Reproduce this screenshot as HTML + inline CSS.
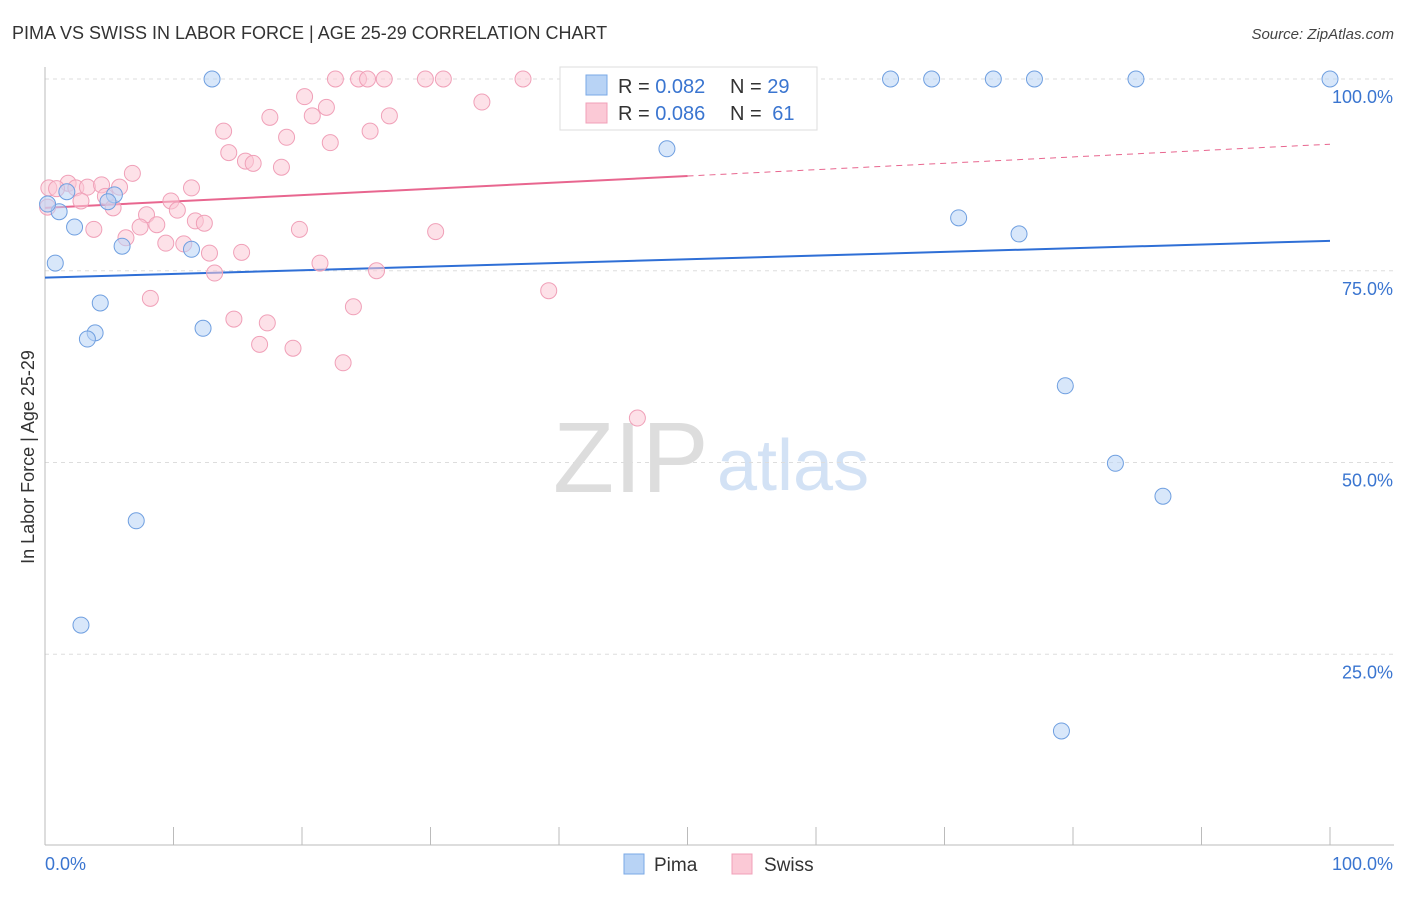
<!DOCTYPE html>
<html><head><meta charset="utf-8"><style>
body{margin:0;background:#fff;font-family:"Liberation Sans",sans-serif;}
svg text{font-family:"Liberation Sans",sans-serif;}
</style></head><body>
<svg id="chart" width="1406" height="892" xmlns="http://www.w3.org/2000/svg">
<text x="12" y="39" font-size="18" fill="#333">PIMA VS SWISS IN LABOR FORCE | AGE 25-29 CORRELATION CHART</text>
<text x="1394" y="39" font-size="15" fill="#444" text-anchor="end" font-style="italic">Source: ZipAtlas.com</text>
<text transform="translate(34,457) rotate(-90)" font-size="18" fill="#333" text-anchor="middle">In Labor Force | Age 25-29</text>
<g>
<text x="553" y="492" font-size="100" fill="#ddd" font-family="Liberation Serif,serif">ZIP</text>
<text x="717" y="490" font-size="72" fill="#d3e2f5">atlas</text>
</g>
<g id="grid"></g><g id="axes"></g><g id="trends"></g><g id="dots"></g>
<g>
<rect x="560" y="67" width="257" height="63" fill="#fff" stroke="#ddd"/>
<rect x="586" y="75" width="21" height="20" fill="#b8d3f5" stroke="#7aa8e6"/>
<text x="618" y="93" font-size="20" fill="#333">R = <tspan fill="#3a75d0">0.082</tspan></text>
<text x="730" y="93" font-size="20" fill="#333">N = <tspan fill="#3a75d0">29</tspan></text>
<rect x="586" y="103" width="21" height="20" fill="#fbc9d6" stroke="#f0a0b8"/>
<text x="618" y="120" font-size="20" fill="#333">R = <tspan fill="#3a75d0">0.086</tspan></text>
<text x="730" y="120" font-size="20" fill="#333">N = <tspan fill="#3a75d0" dx="5">61</tspan></text>
</g>
<g>
<rect x="624" y="854" width="20" height="20" fill="#b8d3f5" stroke="#7aa8e6"/>
<text x="654" y="871" font-size="19" fill="#333">Pima</text>
<rect x="732" y="854" width="20" height="20" fill="#fbc9d6" stroke="#f0a0b8"/>
<text x="764" y="871" font-size="19" fill="#333">Swiss</text>
</g>
</svg>
<script>
const pimaX=[13.0,65.8,69.0,73.8,77.0,84.9,100,48.4,71.1,75.8,1.1,0.2,1.7,5.4,4.9,2.3,0.8,6.0,11.4,4.3,3.9,3.3,12.3,79.4,83.3,87.0,7.1,2.8,79.1];
const pimaY=[100,100,100,100,100,100,100,90.9,81.9,79.8,82.7,83.7,85.3,84.9,84.0,80.7,76.0,78.2,77.8,70.8,66.9,66.1,67.5,60.0,49.9,45.6,42.4,28.8,15.0];
const swissX=[22.6,24.4,25.1,26.4,29.6,31.0,37.2,20.2,34.0,21.9,17.5,20.8,26.8,13.9,25.3,18.8,22.2,14.3,15.6,16.2,18.4,6.8,1.8,0.3,0.9,2.4,3.3,4.4,5.8,11.4,4.7,2.8,9.8,5.3,0.2,10.3,7.9,11.7,12.4,8.7,7.4,3.8,19.8,30.4,6.3,9.4,10.8,12.8,15.3,21.4,25.8,13.2,39.2,8.2,24.0,14.7,17.3,16.7,19.3,23.2,46.1];
const swissY=[100,100,100,100,100,100,100,97.7,97.0,96.3,95.0,95.2,95.2,93.2,93.2,92.4,91.7,90.4,89.3,89.0,88.5,87.7,86.4,85.8,85.7,85.8,85.9,86.2,85.9,85.8,84.7,84.1,84.1,83.2,83.3,82.9,82.3,81.5,81.2,81.0,80.7,80.4,80.4,80.1,79.3,78.6,78.5,77.3,77.4,76.0,75.0,74.7,72.4,71.4,70.3,68.7,68.2,65.4,64.9,63.0,55.8];
const yTicks=[100,75,50,25];
const yTickLabels=["100.0%","75.0%","50.0%","25.0%"];
const pimaTrend=[74.1,78.9];
const swissTrend=[83.2,91.5];
const NS="http://www.w3.org/2000/svg";
const sx=v=>45+v*12.85, sy=v=>846-v*7.67;
function mk(tag,attrs,parent){const e=document.createElementNS(NS,tag);for(const k in attrs)e.setAttribute(k,attrs[k]);document.getElementById(parent).appendChild(e);return e;}
yTicks.forEach((t,i)=>{
 let l=mk('line',{x1:45,x2:1394,y1:sy(t),y2:sy(t),stroke:'#ddd','stroke-dasharray':'4,4'},'grid');
 
 
 let tx=mk('text',{x:1393,y:sy(t)+24,'font-size':18,fill:'#3a75d0','text-anchor':'end'},'grid');
 tx.textContent=yTickLabels[i];
 
 
});
let ax=mk('line',{x1:45,x2:1394,y1:845,y2:845,stroke:'#bbb'},'axes');


let ay=mk('line',{x1:45,x2:45,y1:67,y2:845,stroke:'#bbb'},'axes');


for(let i=0;i<=10;i++){let t=mk('line',{x1:sx(i*10),x2:sx(i*10),y1:827,y2:845,stroke:'#bbb'},'axes');
 
 }
let x0=mk('text',{x:45,y:870,'font-size':18,fill:'#3a75d0'},'axes');x0.textContent='0.0%';


let x1=mk('text',{x:1393,y:870,'font-size':18,fill:'#3a75d0','text-anchor':'end'},'axes');x1.textContent='100.0%';


function dots(X,Y,fill,stroke,name){X.forEach((x,i)=>{let c=mk('circle',{cx:sx(x),cy:sy(Y[i]),r:8,fill:fill,'fill-opacity':0.55,stroke:stroke,'stroke-width':1},'dots');
 
 });}
dots(swissX,swissY,'#fbc9d6','#f0a0b8','swiss-point');
dots(pimaX,pimaY,'#b8d3f5','#6f9fe0','pima-point');
let pt=mk('line',{x1:sx(0),y1:sy(pimaTrend[0]),x2:sx(100),y2:sy(pimaTrend[1]),stroke:'#2f6fd6','stroke-width':2},'trends');


const sm=swissTrend[0]+(swissTrend[1]-swissTrend[0])*0.5;
let st=mk('line',{x1:sx(0),y1:sy(swissTrend[0]),x2:sx(50),y2:sy(sm),stroke:'#e8668f','stroke-width':2},'trends');


let sd=mk('line',{x1:sx(50),y1:sy(sm),x2:sx(100),y2:sy(swissTrend[1]),stroke:'#e8668f','stroke-width':1,'stroke-dasharray':'6,5'},'trends');


</script>
</body></html>
